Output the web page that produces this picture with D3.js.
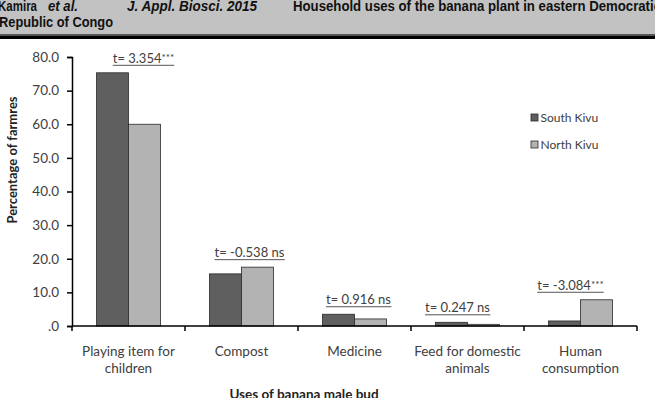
<!DOCTYPE html>
<html><head><meta charset="utf-8">
<script src="https://cdn.jsdelivr.net/npm/d3@7"></script>
<style>
html,body{margin:0;padding:0;background:#fff;}
svg{display:block;}
</style></head>
<body>
<svg id="c" width="655" height="398"></svg>
<script>
const categories = [["Playing item for","children"],["Compost"],["Medicine"],["Feed for domestic","animals"],["Human","consumption"]];
const seriesNames = ["South Kivu","North Kivu"];
const southKivu = [75.3, 15.5, 3.5, 1.1, 1.5];
const northKivu = [60.0, 17.5, 2.1, 0.5, 7.8];
const tValues = ["3.354","-0.538","0.916","0.247","-3.084"];
const tSig = ["***","ns","ns","ns","***"];
const yTicks = [0,10,20,30,40,50,60,70,80];

const svg = d3.select("#c");
const fontChart = "Lato, 'Open Sans', sans-serif";

// header band
svg.append("rect").attr("x",0).attr("y",0).attr("width",655).attr("height",35).attr("fill","#c2c2c2");
svg.append("rect").attr("x",0).attr("y",34).attr("width",655).attr("height",1.5).attr("fill","#555");
svg.append("rect").attr("x",0).attr("y",35.5).attr("width",655).attr("height",3.5).attr("fill","#000");
const hf = "'Liberation Sans', Arial, sans-serif";
function htext(x,y,t,len,italic){
  svg.append("text").attr("x",x).attr("y",y).text(t)
    .attr("font-family",hf).attr("font-weight","bold").attr("font-size",14)
    .attr("font-style",italic?"italic":"normal").attr("fill","#111")
    .attr("textLength",len).attr("lengthAdjust","spacingAndGlyphs");
}
htext(-2,10.5,"Kamira",39,false);
htext(48,10.5,"et al.",30,true);
htext(127,10.5,"J. Appl. Biosci.  2015",130,true);
htext(293,10.5,"Household uses of the banana plant in eastern Democratic",368,false);
htext(-1,27,"Republic of Congo",114,false);

// scales
const x0 = d3.scaleBand().domain(d3.range(categories.length)).range([72,637]).paddingInner(49/113).paddingOuter(24.5/113);
const x1 = d3.scaleBand().domain([0,1]).range([0,x0.bandwidth()]);
const y = d3.scaleLinear().domain([0,80]).range([326,57]);
const colors = ["#5f5f5f","#b3b3b3"];

// y axis
const yAxis = svg.append("g").attr("transform","translate(72,0)")
  .call(d3.axisLeft(y).tickValues(yTicks).tickSize(5).tickFormat(d => d===0 ? ".0" : d.toFixed(1)));
yAxis.select(".domain").attr("stroke","#000").attr("stroke-width",1.5);
yAxis.selectAll(".tick line").attr("stroke","#000").attr("stroke-width",1.5);
yAxis.selectAll(".tick text").attr("font-family",fontChart).attr("font-size",13.5).attr("fill","#404040").attr("x",-13);

// bars
const data = categories.map((c,i)=>[southKivu[i],northKivu[i]]);
const g = svg.append("g");
data.forEach((vals,i)=>{
  vals.forEach((v,s)=>{
    g.append("rect")
      .attr("x",x0(i)+x1(s)).attr("y",y(v))
      .attr("width",x1.bandwidth()).attr("height",y(0)-y(v))
      .attr("fill",colors[s]).attr("stroke","#2a2a2a").attr("stroke-width",0.8);
  });
});

// x axis
const step = x0.step();
const bounds = d3.range(categories.length+1).map(i => x0(0) - x0.paddingOuter()*step + i*step);
svg.append("line").attr("x1",72).attr("x2",637).attr("y1",y(0)).attr("y2",y(0)).attr("stroke","#000").attr("stroke-width",1.5);
svg.selectAll(".xt").data(bounds).enter().append("line")
  .attr("x1",d=>d).attr("x2",d=>d).attr("y1",y(0)).attr("y2",y(0)+5).attr("stroke","#000").attr("stroke-width",1.5);

// category labels
categories.forEach((lines,i)=>{
  const cx = x0(i)+x0.bandwidth()/2;
  const t = svg.append("text").attr("text-anchor","middle").attr("font-family",fontChart).attr("font-size",13.5).attr("fill","#404040");
  lines.forEach((l,k)=>{
    t.append("tspan").attr("x",cx).attr("y",356+k*17).text(l);
  });
});

// t annotations
const nudge = [15, 8, 4, -10, -10];
categories.forEach((c,i)=>{
  const cx = x0(i)+x0.bandwidth()/2 + nudge[i];
  const top = y(Math.max(southKivu[i],northKivu[i]));
  const ul = top - 7.5;
  const t = svg.append("text").attr("text-anchor","middle").attr("x",cx).attr("y",ul-2.5)
    .attr("font-family",fontChart).attr("font-size",13).attr("fill","#404040");
  t.append("tspan").text("t= "+tValues[i]+(tSig[i]==="ns"?" ":""));
  if(tSig[i]==="ns") t.append("tspan").text("ns");
  else t.append("tspan").attr("font-size",10).attr("dy",-2).text(tSig[i]);
  const bb = t.node().getBBox();
  svg.append("line").attr("x1",bb.x).attr("x2",bb.x+bb.width).attr("y1",ul).attr("y2",ul).attr("stroke","#555").attr("stroke-width",1);
});

// legend
seriesNames.forEach((n,s)=>{
  const ly = 118 + s*27;
  svg.append("rect").attr("x",531).attr("y",ly-4).attr("width",7).attr("height",7)
    .attr("fill",colors[s]).attr("stroke","#2a2a2a").attr("stroke-width",0.8);
  svg.append("text").attr("x",540.5).attr("y",ly+4).text(n)
    .attr("font-family",fontChart).attr("font-size",12).attr("fill","#404040");
});

// axis titles
svg.append("text").attr("transform","translate(17,160) rotate(-90)").attr("text-anchor","middle")
  .attr("font-family",fontChart).attr("font-weight","bold").attr("font-size",13).attr("fill","#222")
  .text("Percentage of farmres");
svg.append("text").attr("x",304).attr("y",399).attr("text-anchor","middle")
  .attr("font-family",fontChart).attr("font-weight","bold").attr("font-size",13.5).attr("fill","#222")
  .text("Uses of banana male bud");
</script>
</body></html>
